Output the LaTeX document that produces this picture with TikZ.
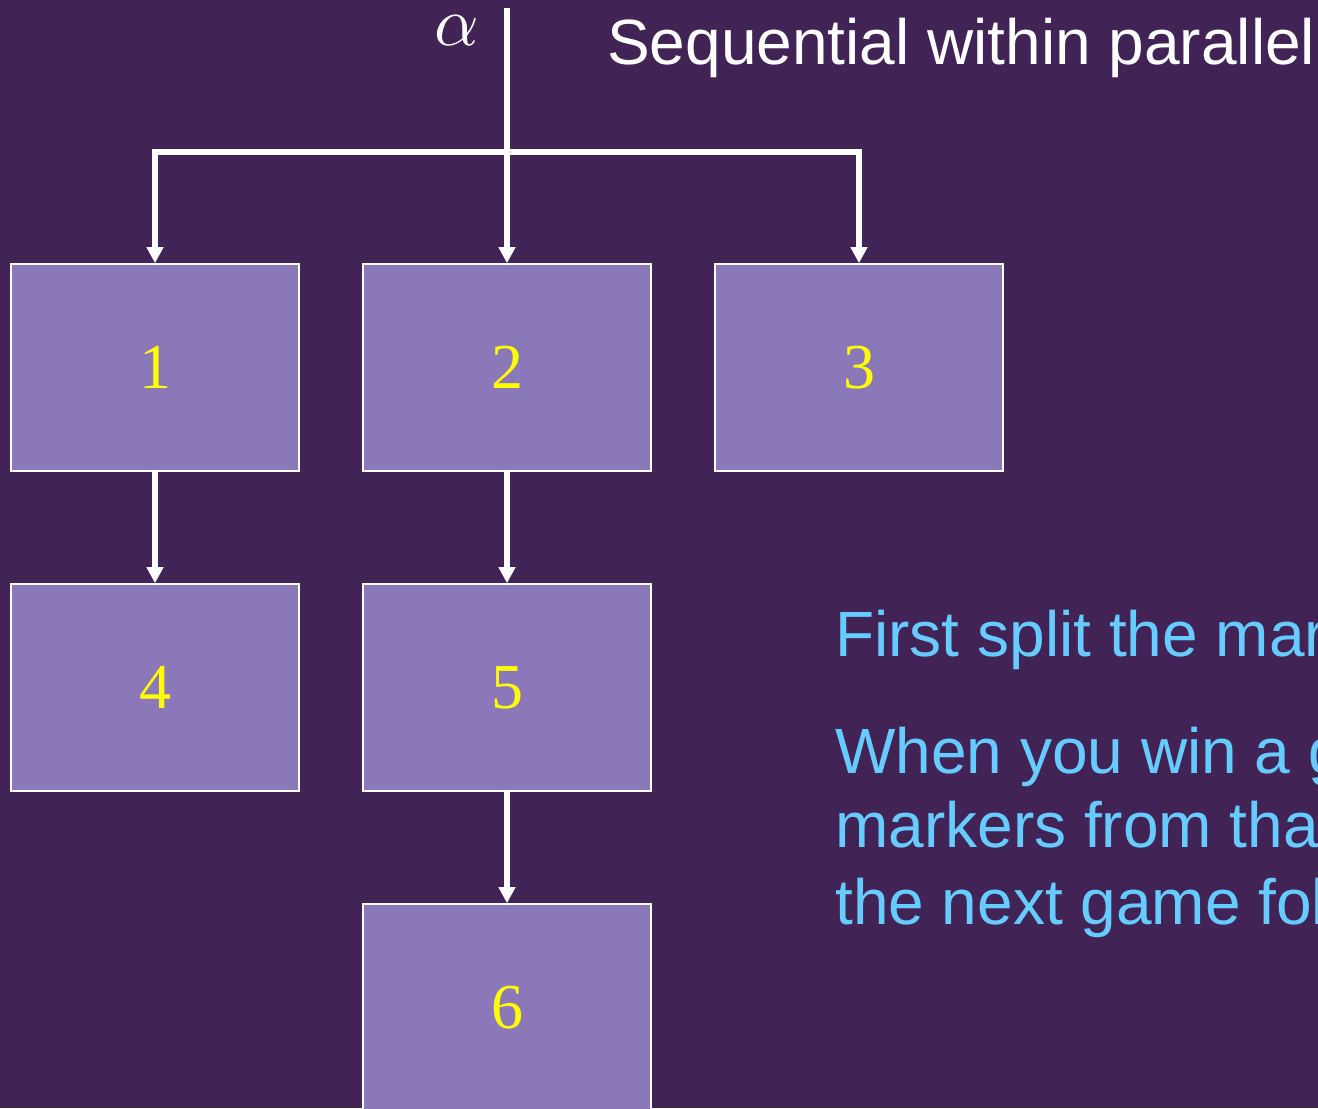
\documentclass[tikz,border=0pt]{standalone}
\usepackage{fontspec}
\setmainfont{Liberation Serif}
\newfontfamily\arialfont{Liberation Sans}
\usetikzlibrary{arrows.meta}
\definecolor{bgpurple}{RGB}{66,35,86}
\definecolor{boxpurple}{RGB}{139,120,185}
\definecolor{numyellow}{RGB}{255,255,0}
\definecolor{textblue}{RGB}{102,204,255}
\tikzset{
  gamebox/.style={draw=white, line width=1.5pt, fill=boxpurple, minimum width=216pt, minimum height=155pt, inner sep=0pt, text=numyellow, font=\fontsize{48}{50}\selectfont},
  flow/.style={draw=white, line width=4.5pt, line join=miter, -{Triangle[width=12pt,length=12pt]}},
  bluetext/.style={text=textblue, font=\arialfont\fontsize{48}{55}\selectfont, anchor=base west, inner sep=0pt},
}
\begin{document}
\begin{tikzpicture}[x=0.75pt, y=-0.75pt]
\useasboundingbox (0,0) rectangle (1318,1108);
\clip (0,0) rectangle (1318,1108);
\fill[bgpurple] (0,0) rectangle (1318,1108);

\node[gamebox] (b1) at (155,367.5) {1};
\node[gamebox] (b2) at (507,367.5) {2};
\node[gamebox] (b3) at (859,367.5) {3};
\node[gamebox] (b4) at (155,687.5) {4};
\node[gamebox] (b5) at (507,687.5) {5};
\node[gamebox] (b6) at (507,1007.5) {6};

\coordinate (top) at (507,8);
\coordinate (c1) at (155,152);
\coordinate (c3) at (859,152);

\draw[flow] (top) -- (b2.north);
\draw[flow, {Triangle[width=12pt,length=12pt]}-{Triangle[width=12pt,length=12pt]}] (b1.north) -- (c1) -- (c3) -- (b3.north);
\draw[flow] (b1.south) -- (b4.north);
\draw[flow] (b2.south) -- (b5.north);
\draw[flow] (b5.south) -- (b6.north);

\node[text=white, scale=5.2, anchor=base, inner sep=0pt] (alpha) at (457,45) {$\alpha$};
\node[text=white, font=\arialfont\fontsize{48}{52}\selectfont, anchor=base west, inner sep=0pt] (title) at (607,64) {Sequential within parallel};

\node[bluetext] (t1) at (835,656) {First split the mark};
\node[bluetext] (t2) at (835,773) {When you win a ga};
\node[bluetext] (t3) at (835,847) {markers from that};
\node[bluetext] (t4) at (835,924) {the next game fol};
\end{tikzpicture}
\end{document}
